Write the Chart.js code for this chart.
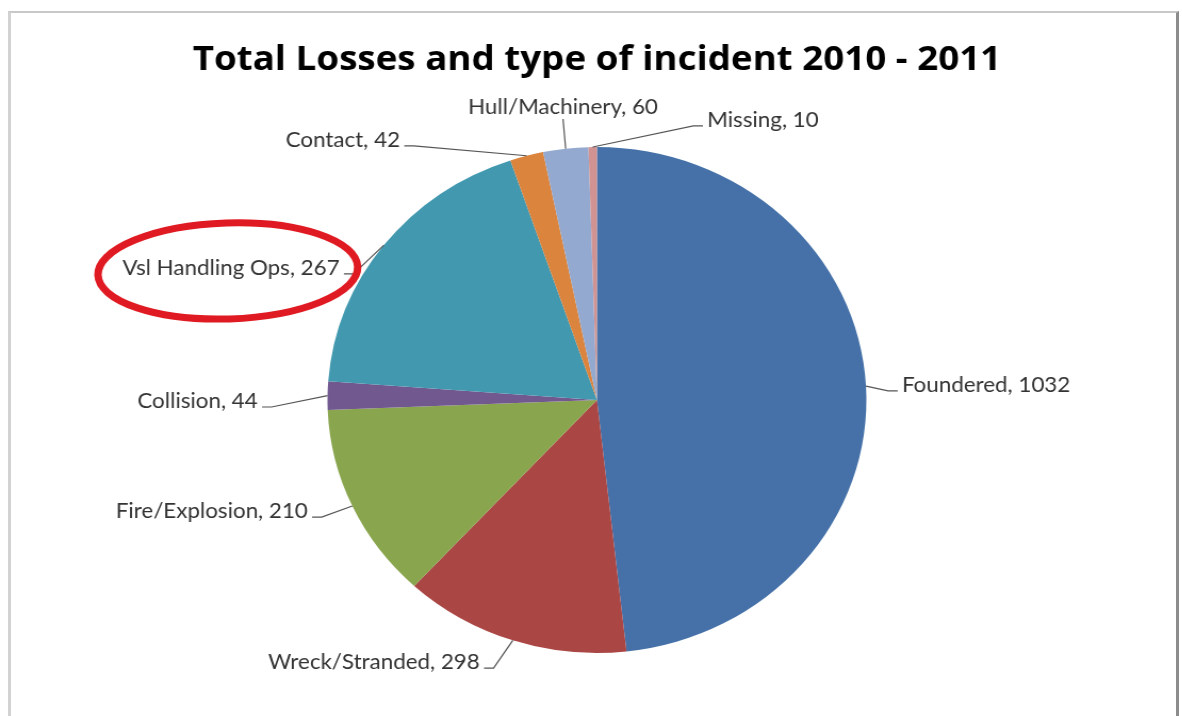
<!DOCTYPE html>
<html>
<head>
<meta charset="utf-8">
<title>Total Losses and type of incident 2010 - 2011</title>
<script src="https://cdn.jsdelivr.net/npm/chart.js@4"></script>
<style>
    html, body { margin: 0; padding: 0; background: #fff; }
    body { width: 1182px; height: 716px; overflow: hidden; position: relative; }
    #frame {
        position: absolute; left: 8px; top: 11px; width: 1171px; height: 710px;
        box-sizing: border-box;
        border-top: 2px solid #c8c8c8; border-left: 3px solid #d2d2d2; border-right: 3px solid #8c8c8c;
    }
    /* the source picture is a little stretched sideways */
    #wrap {
        position: absolute; left: 0; top: 0; width: 1110px; height: 716px;
        transform: scaleX(1.065); transform-origin: 0 0;
    }
</style>
</head>
<body>
<div id="frame"></div>
<div id="wrap"><canvas id="myChart"></canvas></div>
<script>
var CATEGORIES = ['Foundered', 'Wreck/Stranded', 'Fire/Explosion', 'Collision',
    'Vsl Handling Ops', 'Contact', 'Hull/Machinery', 'Missing'];
var COUNTS = [1032, 298, 210, 44, 267, 42, 60, 10];
// slice sizes in % as drawn in the picture (they don't follow the counts)
var SLICE_SHARE = [48.2, 13.6, 12.5, 1.8, 18.6, 2.0, 2.7, 0.5];
var COLORS = ['#4571a8', '#aa4644', '#89a54e', '#71588f', '#4198af', '#db843d', '#93a9cf', '#d19392'];
var HIGHLIGHT = 'Vsl Handling Ops';

(function () {
    // label spot relative to the pie centre, in radius units, and text alignment
    var LABEL_PLACE = [
        [1.132, -0.06, 'left'],
        [-0.435, 1.036, 'right'],
        [-1.073, 0.439, 'right'],
        [-1.259, 0.004, 'right'],
        [-0.955, -0.522, 'right'],
        [-0.731, -1.028, 'right'],
        [-0.126, -1.158, 'center'],
        [0.409, -1.107, 'left']
    ];

    var pieLabels = {
        id: 'pieLabels',
        afterDraw: function (chart) {
            var ctx = chart.ctx,
                arcs = chart.getDatasetMeta(0).data;

            ctx.save();
            ctx.font = '21px Lato';
            ctx.textBaseline = 'middle';

            arcs.forEach(function (arc, i) {
                var p = arc.getProps(['x', 'y', 'startAngle', 'endAngle', 'outerRadius'], true),
                    mid = (p.startAngle + p.endAngle) / 2,
                    r = p.outerRadius,
                    ex = p.x + Math.cos(mid) * r,
                    ey = p.y + Math.sin(mid) * r,
                    place = LABEL_PLACE[i],
                    lx = p.x + place[0] * r,
                    ly = p.y + place[1] * r,
                    text = CATEGORIES[i] + ', ' + COUNTS[i],
                    w = ctx.measureText(text).width,
                    side, ax, ay, cx;

                // leader line
                ctx.strokeStyle = '#555';
                ctx.lineWidth = 1.2;
                ctx.beginPath();
                ctx.moveTo(ex, ey);
                if (place[2] === 'center') {
                    ctx.lineTo(lx, ly + 12);
                } else {
                    side = place[2] === 'left' ? -1 : 1;
                    ax = lx + side * 4;
                    ay = ly + 6;
                    ctx.lineTo(ax + side * 9, ay);
                    ctx.lineTo(ax, ay);
                }
                ctx.stroke();

                ctx.fillStyle = '#333';
                ctx.textAlign = place[2];
                ctx.fillText(text, lx, ly);

                if (CATEGORIES[i] === HIGHLIGHT) {
                    cx = place[2] === 'right' ? lx - w / 2 : (place[2] === 'left' ? lx + w / 2 : lx);
                    ctx.strokeStyle = '#e01a22';
                    ctx.lineWidth = 7;
                    ctx.beginPath();
                    ctx.ellipse(cx - 3, ly + 3, w / 2 + 20, 48, -0.035, 0, Math.PI * 2);
                    ctx.stroke();
                }
            });
            ctx.restore();
        }
    };

    new Chart(document.getElementById('myChart').getContext('2d'), {
        type: 'pie',
        data: {
            labels: CATEGORIES,
            datasets: [{
                data: SLICE_SHARE,
                backgroundColor: COLORS,
                borderWidth: 0
            }]
        },
        options: {
            responsive: true,
            maintainAspectRatio: false,
            animation: false,
            layout: {
                padding: { left: 11, right: 0, top: 0, bottom: 63 }
            },
            plugins: {
                legend: { display: false },
                tooltip: { enabled: false },
                title: {
                    display: true,
                    text: 'Total Losses and type of incident 2010 - 2011',
                    color: '#000',
                    font: { family: 'Open Sans', size: 34.5, weight: 'bold', lineHeight: 1.2 },
                    padding: { top: 39.5, bottom: 66.1 }
                }
            }
        },
        plugins: [pieLabels]
    });
})();
</script>
</body>
</html>
